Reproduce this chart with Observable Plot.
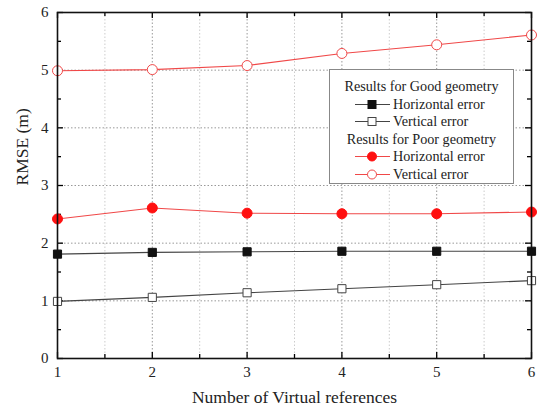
<!DOCTYPE html>
<html>
<head>
<meta charset="utf-8">
<script src="https://cdn.jsdelivr.net/npm/d3@7"></script>
<script src="https://cdn.jsdelivr.net/npm/@observablehq/plot@0.6"></script>
<style>
  body { margin: 0; background: #fff; }
  #wrap { position: relative; width: 541px; height: 407px; font-family: "Liberation Serif", "Times New Roman", "DejaVu Serif", serif; }
  #legend { position: absolute; left: 329px; top: 69px; width: 185px; height: 115px; border: 1px solid #888; background: #fff; box-sizing: border-box; font-size: 14.2px; color: #222; padding-top: 8px; }
  #legend .hdr { text-align: center; height: 17.5px; line-height: 17.5px; white-space: nowrap; }
  #legend .row { height: 17.5px; line-height: 17.5px; display: flex; align-items: center; padding-left: 25px; white-space: nowrap; }
  #legend svg { margin-right: 3px; }
</style>
</head>
<body>
<div id="wrap"></div>
<script>
const refs = [1, 2, 3, 4, 5, 6];
const goodHorizontal = [1.81, 1.84, 1.85, 1.86, 1.86, 1.86];
const goodVertical = [0.99, 1.06, 1.14, 1.21, 1.28, 1.35];
const poorHorizontal = [2.42, 2.61, 2.52, 2.51, 2.51, 2.54];
const poorVertical = [4.99, 5.01, 5.08, 5.29, 5.44, 5.61];
const yTicks = [0, 1, 2, 3, 4, 5, 6];
const yMinor = [0.5, 1.5, 2.5, 3.5, 4.5, 5.5];
const xTicks = [1, 2, 3, 4, 5, 6];
const xMinor = [1.5, 2.5, 3.5, 4.5, 5.5];

const series = [
  {name: "Good geometry", label: "Horizontal error", values: goodHorizontal, line: "#444", stroke: "#111", fill: "#111", symbol: "square", r: 4.6},
  {name: "Good geometry", label: "Vertical error", values: goodVertical, line: "#444", stroke: "#444", fill: "#fff", symbol: "square", r: 4.6},
  {name: "Poor geometry", label: "Horizontal error", values: poorHorizontal, line: "#f04848", stroke: "#ff1010", fill: "#ff1010", symbol: "circle", r: 5},
  {name: "Poor geometry", label: "Vertical error", values: poorVertical, line: "#f04848", stroke: "#f04848", fill: "#fff", symbol: "circle", r: 5}
];

const W = 541, H = 407, ML = 57, MR = 10, MT = 12, MB = 49;
const pw = W - ML - MR, ph = H - MT - MB;
const tk = 6, tkm = 4;
const FONT = "'Liberation Serif', 'Times New Roman', 'DejaVu Serif', serif";

const marks = [
  Plot.gridX(xMinor, {stroke: "#ccc", strokeOpacity: 1, strokeDasharray: "1.5,2"}),
  Plot.gridX(xTicks, {stroke: "#999", strokeOpacity: 1, strokeDasharray: "1.5,2"}),
  Plot.gridY(yTicks, {stroke: "#999", strokeOpacity: 1, strokeDasharray: "1.5,2"}),
  // inward ticks
  Plot.tickY(yTicks, {y: d => d, insetRight: pw - tk, stroke: "#000", strokeWidth: 1.3}),
  Plot.tickY(yTicks, {y: d => d, insetLeft: pw - tk, stroke: "#000", strokeWidth: 1.3}),
  Plot.tickY(yMinor, {y: d => d, insetRight: pw - tkm, stroke: "#000", strokeWidth: 1.3}),
  Plot.tickY(yMinor, {y: d => d, insetLeft: pw - tkm, stroke: "#000", strokeWidth: 1.3}),
  Plot.tickX(xTicks, {x: d => d, insetTop: ph - tk, stroke: "#000", strokeWidth: 1.3}),
  Plot.tickX(xTicks, {x: d => d, insetBottom: ph - tk, stroke: "#000", strokeWidth: 1.3}),
  Plot.tickX(xMinor, {x: d => d, insetTop: ph - tkm, stroke: "#000", strokeWidth: 1.3}),
  Plot.tickX(xMinor, {x: d => d, insetBottom: ph - tkm, stroke: "#000", strokeWidth: 1.3}),
  Plot.axisY(yTicks, {tickSize: 0, tickPadding: 9, fontSize: 15, label: null, anchor: "left", tickFormat: d => String(d)}),
  Plot.axisX(xTicks, {tickSize: 0, tickPadding: 8, fontSize: 15, label: null, anchor: "bottom", tickFormat: d => String(d)}),
  Plot.text(["RMSE (m)"], {frameAnchor: "left", dx: -35, rotate: -90, fontSize: 17.5, fill: "#222"}),
  Plot.text(["Number of Virtual references"], {frameAnchor: "bottom", dy: 44, fontSize: 17.5, fill: "#222"}),
];
for (const s of series) {
  const data = refs.map((x, i) => ({x, y: s.values[i]}));
  marks.push(Plot.line(data, {x: "x", y: "y", stroke: s.line, strokeWidth: 1.1}));
}
for (const s of series) {
  const data = refs.map((x, i) => ({x, y: s.values[i]}));
  marks.push(Plot.dot(data, {x: "x", y: "y", symbol: s.symbol, r: s.r, fill: s.fill, stroke: s.stroke, strokeWidth: 1}));
}
marks.push(Plot.frame({stroke: "#111", strokeWidth: 1.6}));

const chart = Plot.plot({
  width: W, height: H,
  marginLeft: ML, marginRight: MR, marginTop: MT, marginBottom: MB,
  x: {domain: [1, 6]},
  y: {domain: [0, 6]},
  style: {fontFamily: FONT, color: "#222", background: "#fff"},
  marks
});
const wrap = document.getElementById("wrap");
wrap.appendChild(chart);

// legend
const lg = document.createElement("div");
lg.id = "legend";
function sym(s) {
  const shape = s.symbol === "square"
    ? `<rect x="13" y="4.5" width="8" height="8" fill="${s.fill}" stroke="${s.stroke}"/>`
    : `<circle cx="17" cy="8.5" r="4.5" fill="${s.fill}" stroke="${s.stroke}"/>`;
  return `<svg width="35" height="17"><line x1="0" x2="35" y1="8.5" y2="8.5" stroke="${s.line}" stroke-width="1.1"/>${shape}</svg>`;
}
let html = "";
let last = null;
for (const s of series) {
  if (s.name !== last) { html += `<div class="hdr">Results for ${s.name}</div>`; last = s.name; }
  html += `<div class="row">${sym(s)}<span>${s.label}</span></div>`;
}
lg.innerHTML = html;
wrap.appendChild(lg);
</script>
</body>
</html>
